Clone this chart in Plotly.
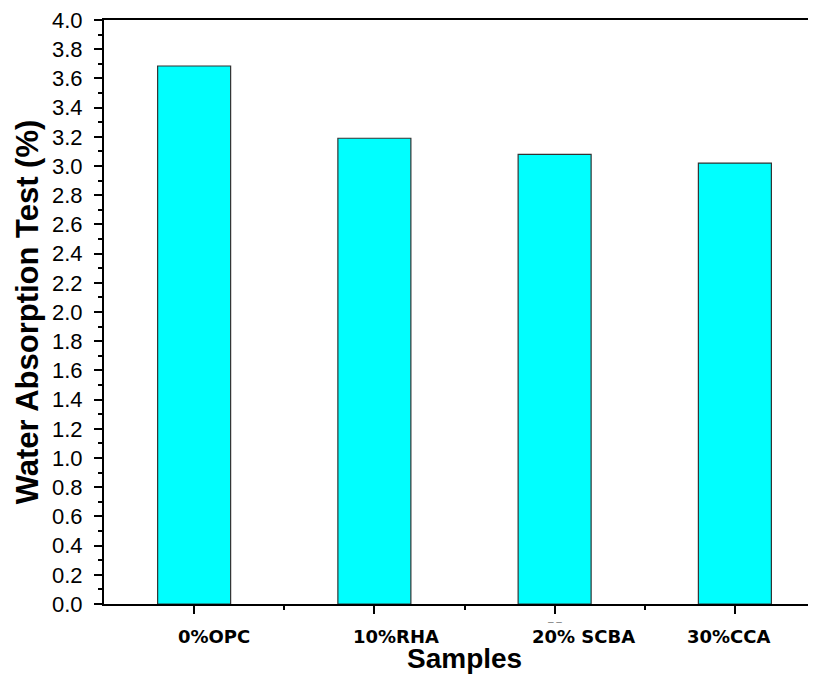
import plotly.graph_objects as go

categories = ["0%OPC", "10%RHA", "20% SCBA", "30%CCA"]
water_absorption = [3.685, 3.19, 3.08, 3.02]
y_ticks = [round(i * 0.2, 1) for i in range(21)]

# style: horizontal nudges of the category labels (data units), as placed in the original
label_nudge = [0.11, 0.12, 0.16, -0.03]

xpos = list(range(len(categories)))

fig = go.Figure()
fig.add_trace(go.Bar(
    x=xpos, y=water_absorption, width=0.405,
    marker=dict(color="#00FFFF", line=dict(color="#333333", width=1.2)),
))

fig.update_layout(
    width=808, height=666,
    margin=dict(l=96, r=0, t=12, b=70),
    paper_bgcolor="white", plot_bgcolor="white",
    showlegend=False,
    font=dict(family="Arial, Liberation Sans", color="black"),
)
fig.update_xaxes(
    range=[-0.5, 3.45],
    tickmode="array", tickvals=xpos, showticklabels=False,
    ticks="outside", ticklen=8, tickwidth=2, tickcolor="black",
    minor=dict(tickmode="array", tickvals=[0.5, 1.5, 2.5], ticks="outside", ticklen=4, tickwidth=2, tickcolor="black"),
    showline=True, linewidth=2, linecolor="black", mirror=True,
    showgrid=False, zeroline=False,
)
fig.update_yaxes(
    range=[0, 4.0],
    tickmode="array", tickvals=y_ticks, ticktext=[f"{v:.1f}" for v in y_ticks],
    tickfont=dict(family="Arial, Liberation Sans", size=22, color="black"),
    ticklabeloverflow="allow",
    ticks="outside", ticklen=8, tickwidth=2, tickcolor="black",
    minor=dict(dtick=0.1, tick0=0, ticks="outside", ticklen=4, tickwidth=2, tickcolor="black"),
    ticklabelstandoff=7,
    showline=True, linewidth=2, linecolor="black",
    showgrid=False, zeroline=False,
    title=dict(text="Water Absorption Test (%)", font=dict(family="Arial, Liberation Sans", size=31, color="black", weight="bold"), standoff=4),
)

for i, (cat, nd) in enumerate(zip(categories, label_nudge)):
    fig.add_annotation(
        x=i + nd, xref="x", y=0, yref="paper", yanchor="middle", yshift=-32,
        text=cat, showarrow=False,
        font=dict(family="DejaVu Sans", size=18, color="black", weight="bold"),
    )

# small grey dash mark under the third tick, as in the original
fig.add_annotation(
    x=2, xref="x", y=0, yref="paper", yanchor="middle", yshift=-17,
    text="‒ ‒", showarrow=False,
    font=dict(family="Arial, Liberation Sans", size=10, color="#777777"),
)

fig.add_annotation(
    x=0.507, xref="paper", y=0, yref="paper", yanchor="middle", yshift=-54,
    text="<b>Samples</b>", showarrow=False,
    font=dict(family="Arial, Liberation Sans", size=28, color="black"),
)

fig.write_html("out.html")
